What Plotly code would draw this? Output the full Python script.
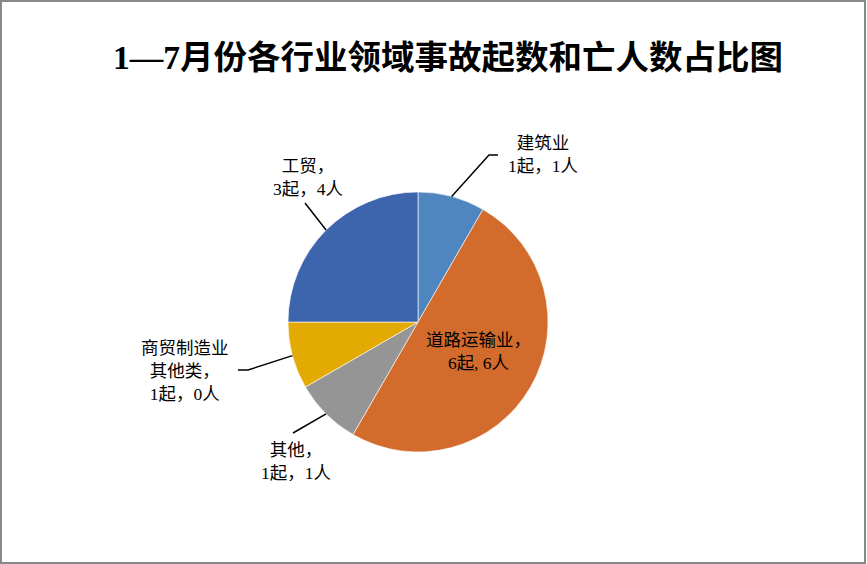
import math
import plotly.graph_objects as go

# 数据
categories = ["建筑业", "道路运输业", "其他", "商贸制造业其他类", "工贸"]
accidents = [1, 6, 1, 1, 3]
deaths = [1, 6, 1, 0, 4]
label_texts = [
    "建筑业<br>{a}起，{d}人",
    "道路运输业，<br>{a}起, {d}人",
    "其他，<br>{a}起，{d}人",
    "商贸制造业<br>其他类，<br>{a}起，{d}人",
    "工贸，<br>{a}起，{d}人",
]
colors = ["#4F86C0", "#D26B2B", "#959595", "#E3AA04", "#3D65AE"]

W, H = 867, 564
CX, CY, R = 418, 322, 130  # 饼图中心和半径 (像素)


def px(x):
    return x / W


def py(y):
    return 1 - y / H


fig = go.Figure(go.Pie(
    labels=categories,
    values=accidents,
    sort=False,
    direction="clockwise",
    rotation=0,
    marker=dict(colors=colors, line=dict(color="white", width=0.6)),
    textinfo="none",
    hoverinfo="label+value",
    showlegend=False,
    domain=dict(x=[px(CX - R), px(CX + R)], y=[py(CY + R), py(CY - R)]),
))

# 标签位置 (文字中心) 和引导线起点
label_pos = [(543, 154), (478, 351), (296, 461), (185, 371), (308, 177)]
leader_pts = [
    [(498, 155), (489, 155)],
    None,
    [(293, 433)],
    [(238, 370), (248, 370)],
    [(305, 203)],
]

font_family = "Liberation Serif, Noto Sans CJK SC, serif"
total = sum(accidents)
cum = 0
for i, v in enumerate(accidents):
    mid = 2 * math.pi * (cum + v / 2) / total
    cum += v
    fig.add_annotation(
        x=px(label_pos[i][0]), y=py(label_pos[i][1]),
        xref="paper", yref="paper",
        xanchor="center", yanchor="middle",
        text=label_texts[i].format(a=accidents[i], d=deaths[i]),
        showarrow=False, align="center",
        font=dict(family=font_family, size=17.5, color="#000000"),
    )
    if leader_pts[i]:
        ex = CX + R * math.sin(mid)
        ey = CY - R * math.cos(mid)
        pts = leader_pts[i] + [(ex, ey)]
        path = "M " + " L ".join(f"{px(x):.5f},{py(y):.5f}" for x, y in pts)
        fig.add_shape(type="path", path=path, xref="paper", yref="paper",
                      line=dict(color="#000000", width=1.5))

# 外框
fig.add_shape(type="rect", xref="paper", yref="paper",
              x0=px(1), x1=px(865), y0=py(563), y1=py(1),
              line=dict(color="#898989", width=2))

fig.update_layout(
    width=W, height=H,
    margin=dict(l=0, r=0, t=0, b=0),
    paper_bgcolor="white",
    plot_bgcolor="white",
    title=dict(
        text="<b>1—7月份各行业领域事故起数和亡人数占比图</b>",
        x=448 / W, y=py(57), xanchor="center", yanchor="middle",
        font=dict(family="Liberation Serif, Noto Sans CJK SC, serif", size=33.5, color="#000000"),
    ),
)

fig.write_html("out.html", config={"displayModeBar": False},
               post_script="document.body.style.margin='0';")
